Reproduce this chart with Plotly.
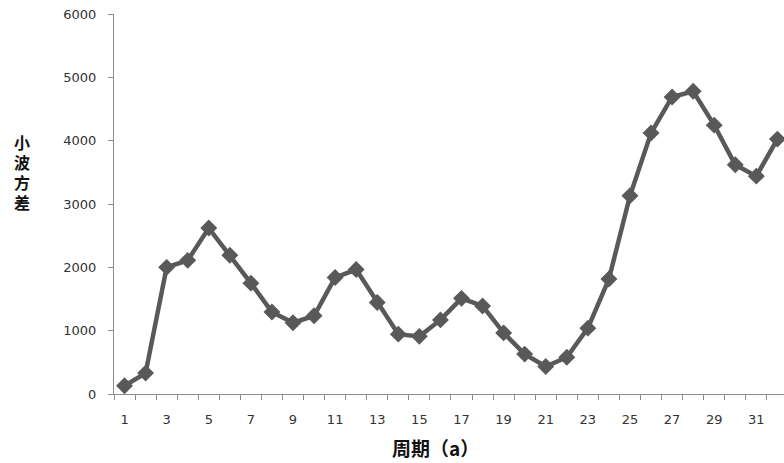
import plotly.graph_objects as go

periods = list(range(1, 33))
variance = [130, 330, 2000, 2110, 2620, 2190, 1750, 1295, 1125, 1235,
            1840, 1965, 1445, 945, 910, 1170, 1510, 1390, 965, 630,
            435, 580, 1040, 1815, 3130, 4120, 4690, 4780, 4245, 3620,
            3440, 4025]
x_labels = list(range(1, 33, 2))
y_ticks = [0, 1000, 2000, 3000, 4000, 5000, 6000]
y_title_chars = ["小", "波", "方", "差"]
x_title = "周期（a）"

line_color = "#595959"
axis_color = "#8c8c8c"
tick_font = dict(family="DejaVu Sans", size=13, color="#333333")

L, T, PW, PH = 114, 14, 670, 380
xr = [0.5, 0.5 + PW / 21.06]

def px(xp):  # page x -> paper x
    return (xp - L) / PW

def py(yp):  # page y -> paper y
    return 1 - (yp - T) / PH

fig = go.Figure()
fig.add_trace(go.Scatter(
    x=periods, y=variance, mode="lines+markers",
    line=dict(color=line_color, width=4.5),
    marker=dict(symbol="diamond", size=13, color=line_color),
    showlegend=False, xaxis="x", yaxis="y", cliponaxis=False,
))
fig.add_trace(go.Scatter(x=[periods[0]], y=[variance[0]], mode="markers",
                         marker=dict(opacity=0), showlegend=False,
                         hoverinfo="skip", xaxis="x2", yaxis="y"))

annotations = []
for i, ch in enumerate(y_title_chars):
    annotations.append(dict(
        text=ch, xref="paper", yref="paper", x=px(22), y=py(142 + 20 * i),
        xanchor="center", yanchor="middle", showarrow=False,
        font=dict(family="Noto Sans CJK SC", size=16, color="#111111", weight="bold")))
annotations.append(dict(
    text=x_title, xref="paper", yref="paper", x=px(435), y=py(447),
    xanchor="center", yanchor="middle", showarrow=False,
    font=dict(family="Noto Sans CJK SC", size=19, color="#111111", weight="bold")))

fig.update_layout(
    width=784, height=463,
    margin=dict(l=L, r=784 - L - PW, t=T, b=463 - T - PH, autoexpand=False),
    paper_bgcolor="white", plot_bgcolor="white",
    xaxis=dict(range=xr, tick0=0.5, dtick=1, ticks="outside", ticklen=5,
               tickcolor=axis_color, showticklabels=False, showgrid=False,
               zeroline=False, showline=True, linecolor=axis_color, linewidth=1,
               automargin=False),
    xaxis2=dict(range=xr, overlaying="x", side="bottom", tickmode="array",
                tickvals=x_labels, ticktext=[str(v) for v in x_labels],
                ticks="", showgrid=False, zeroline=False, showline=False,
                tickfont=tick_font, ticklabelstandoff=16, automargin=False),
    yaxis=dict(range=[0, 6000], tickmode="array", tickvals=y_ticks,
               ticktext=[str(v) for v in y_ticks], ticks="outside", ticklen=5,
               tickcolor=axis_color, showgrid=False, zeroline=False,
               showline=True, linecolor=axis_color, linewidth=1,
               tickfont=tick_font, ticklabelstandoff=9, automargin=False),
    annotations=annotations,
)
fig.write_html("out.html", config={"displayModeBar": False},
               post_script="document.body.style.margin='0';document.body.style.padding='0';")
